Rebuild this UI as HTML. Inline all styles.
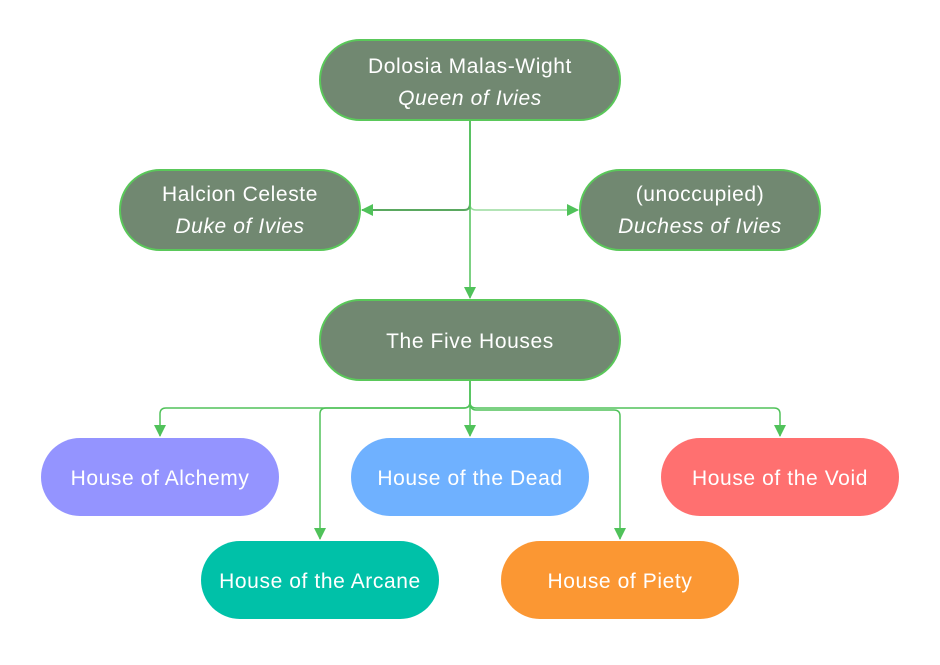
<!DOCTYPE html>
<html><head><meta charset="utf-8"><style>
html,body{margin:0;padding:0;background:#fff;}
svg text{font-family:"Liberation Sans",sans-serif;fill:#fff;font-size:21px;letter-spacing:0.6px;text-anchor:middle;}
</style></head><body>
<svg width="940" height="660" viewBox="0 0 940 660" xmlns="http://www.w3.org/2000/svg">
<defs><marker id="a" markerWidth="12" markerHeight="12" refX="11" refY="6" orient="auto" markerUnits="userSpaceOnUse"><path d="M0,0 L12,6 L0,12 z" fill="#50c25a"/></marker></defs>
<g fill="none" stroke="#50c25a" stroke-width="1.5">
<path d="M470,121 V204 Q470,210 464,210 H362" marker-end="url(#a)" stroke="#5aa860" stroke-width="2"/>
<path d="M470,121 V204 Q470,210 476,210 H578" marker-end="url(#a)" stroke="#9adc9e"/>
<path d="M470,121 V298" marker-end="url(#a)"/>
<path d="M470,381 V402 Q470,408 464,408 H166 Q160,408 160,414 V436" marker-end="url(#a)"/>
<path d="M470,381 V402 Q470,408 476,408 H774 Q780,408 780,414 V436" marker-end="url(#a)"/>
<path d="M470,381 V436" marker-end="url(#a)"/>
<path d="M470,402 Q470,408 464,408 H326 Q320,408 320,414 V539" marker-end="url(#a)"/>
<path d="M470,402 Q470,410 476,410 H614 Q620,410 620,416 V539" marker-end="url(#a)"/>
</g>
<g stroke="#5ac85a" stroke-width="2" fill="#718871">
<rect x="320" y="40" width="300" height="80" rx="40"/>
<rect x="120" y="170" width="240" height="80" rx="40"/>
<rect x="580" y="170" width="240" height="80" rx="40"/>
<rect x="320" y="300" width="300" height="80" rx="40"/>
</g>
<rect x="41" y="438" width="238" height="78" rx="39" fill="#9494ff"/>
<rect x="351" y="438" width="238" height="78" rx="39" fill="#6fb1ff"/>
<rect x="661" y="438" width="238" height="78" rx="39" fill="#ff7070"/>
<rect x="201" y="541" width="238" height="78" rx="39" fill="#00c1a8"/>
<rect x="501" y="541" width="238" height="78" rx="39" fill="#fb9733"/>
<text x="470" y="73">Dolosia Malas-Wight</text>
<text x="470" y="105" font-style="italic">Queen of Ivies</text>
<text x="240" y="201">Halcion Celeste</text>
<text x="240" y="233" font-style="italic">Duke of Ivies</text>
<text x="700" y="201">(unoccupied)</text>
<text x="700" y="233" font-style="italic">Duchess of Ivies</text>
<text x="470" y="348">The Five Houses</text>
<text x="160" y="485">House of Alchemy</text>
<text x="470" y="485">House of the Dead</text>
<text x="780" y="485">House of the Void</text>
<text x="320" y="588">House of the Arcane</text>
<text x="620" y="588">House of Piety</text>
</svg>
</body></html>
